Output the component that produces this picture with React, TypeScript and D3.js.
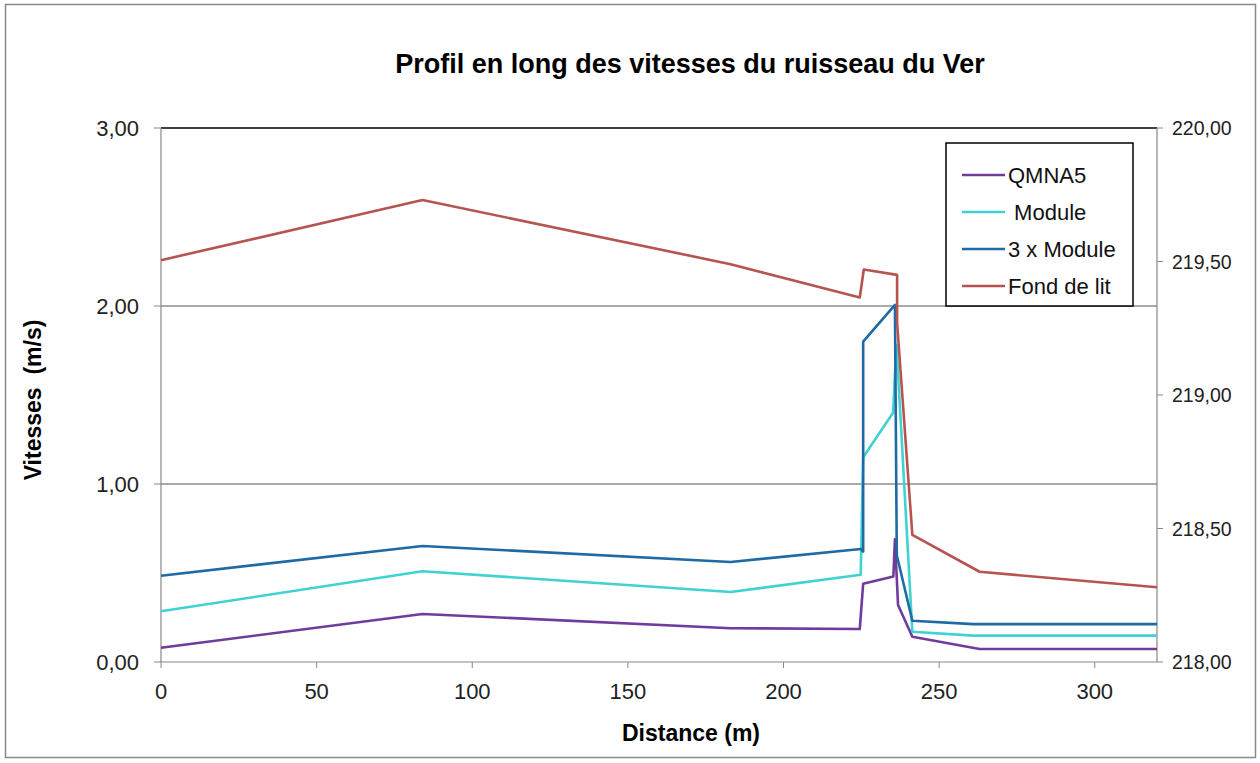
import React from "react";
import * as d3 from "d3";

const W = 1260;
const H = 763;

const title = "Profil en long des vitesses du ruisseau du Ver";
const xTicks = [0, 50, 100, 150, 200, 250, 300];
const yTicks = [0, 1, 2, 3];
const y2Ticks = [218, 218.5, 219, 219.5, 220];

const qmnaX = [0, 84, 183, 224.5, 225.6, 235.3, 235.8, 236.8, 241.4, 263, 320];
const qmnaV = [0.08, 0.27, 0.19, 0.185, 0.44, 0.48, 0.69, 0.32, 0.142, 0.073, 0.073];

const moduleX = [0, 84, 183, 224.8, 225.6, 235.2, 236.3, 241.4, 261, 320];
const moduleV = [0.285, 0.51, 0.393, 0.49, 1.15, 1.4, 1.78, 0.17, 0.148, 0.148];

const module3X = [0, 84, 183, 224.8, 225.6, 225.6, 235.8, 236.4, 241.4, 261, 320];
const module3V = [0.485, 0.652, 0.562, 0.635, 0.62, 1.8, 2.006, 0.6, 0.232, 0.213, 0.213];

const fondX = [0, 84, 183, 224.5, 225.8, 236.5, 236.5, 241.4, 263, 320];
const fondZ = [219.505, 219.73, 219.49, 219.365, 219.47, 219.45, 219.27, 218.476, 218.338, 218.28];

const legendNames = ["QMNA5", " Module", "3 x Module", "Fond de lit"];
const colors = ["#6f3c9e", "#40d2d2", "#1f6aa5", "#b65450"];

const FONT = "'Liberation Sans', Arial, sans-serif";

export default function App() {
  const left = 161, right = 1157, top = 128, bottom = 662;
  const x = d3.scaleLinear().domain([0, 320]).range([left, right]);
  const y = d3.scaleLinear().domain([0, 3]).range([bottom, top]);
  const y2 = d3.scaleLinear().domain([218, 220]).range([bottom, top]);

  const fmt = (v: number) => v.toFixed(2).replace(".", ",");

  const lineV = d3.line<[number, number]>().x((d) => x(d[0])).y((d) => y(d[1]));
  const lineZ = d3.line<[number, number]>().x((d) => x(d[0])).y((d) => y2(d[1]));

  const zip = (a: number[], b: number[]) => a.map((v, i) => [v, b[i]] as [number, number]);

  const paths = [
    lineV(zip(qmnaX, qmnaV)),
    lineV(zip(moduleX, moduleV)),
    lineV(zip(module3X, module3V)),
    lineZ(zip(fondX, fondZ)),
  ];

  const legX = 946, legY = 143, legW = 187, legH = 163;
  const legRows = [175, 212, 249, 286];

  return (
    <svg
      width={W}
      height={H}
      style={{ position: "absolute", left: 0, top: 0, background: "#fff" }}
      fontFamily={FONT}
    >
      <rect x={0} y={0} width={W} height={H} fill="#fff" />
      <rect x={5.5} y={4.5} width={1250} height={753} fill="none" stroke="#8a8a8a" strokeWidth={1.5} />

      <text x={690} y={73} textAnchor="middle" fontSize={27} fontWeight="bold" fill="#000">
        {title}
      </text>

      {yTicks.filter((t) => t > 0).map((t) => (
        <line key={t} x1={left} x2={right} y1={y(t)} y2={y(t)} stroke={t === 3 ? "#000" : "#555"} strokeWidth={t === 3 ? 1.5 : 1} />
      ))}

      <line x1={left} x2={left} y1={top} y2={bottom} stroke="#888" strokeWidth={1.2} />
      {yTicks.map((t) => (
        <g key={t}>
          <line x1={left - 7} x2={left} y1={y(t)} y2={y(t)} stroke="#888" />
          <text x={139} y={y(t)} dy="0.36em" textAnchor="end" fontSize={22} fill="#222">
            {fmt(t)}
          </text>
        </g>
      ))}

      <line x1={left} x2={right} y1={bottom} y2={bottom} stroke="#888" strokeWidth={1.2} />
      {xTicks.map((t) => (
        <g key={t}>
          <line x1={x(t)} x2={x(t)} y1={bottom} y2={bottom + 6} stroke="#888" />
          <text x={x(t)} y={699} textAnchor="middle" fontSize={22} fill="#222">
            {t}
          </text>
        </g>
      ))}

      <line x1={right} x2={right} y1={top} y2={bottom} stroke="#888" strokeWidth={1.2} />
      {y2Ticks.map((t) => (
        <g key={t}>
          <line x1={right} x2={right + 6} y1={y2(t)} y2={y2(t)} stroke="#888" />
          <text x={1172} y={y2(t)} dy="0.36em" textAnchor="start" fontSize={19.5} fill="#222">
            {fmt(t)}
          </text>
        </g>
      ))}

      {paths.map((p, i) => (
        <path key={i} d={p || ""} fill="none" stroke={colors[i]} strokeWidth={2.6} strokeLinejoin="round" />
      ))}

      <text x={691} y={741} textAnchor="middle" fontSize={23} fontWeight="bold" fill="#000">
        Distance (m)
      </text>
      <text
        transform={`translate(33, 400) rotate(-90)`}
        textAnchor="middle"
        dy="0.36em"
        fontSize={23}
        fontWeight="bold"
        fill="#000"
        style={{ whiteSpace: "pre" }}
      >
        {"Vitesses  (m/s)"}
      </text>

      <rect x={legX} y={legY} width={legW} height={legH} fill="#fff" stroke="#000" strokeWidth={1.5} />
      {legendNames.map((n, i) => (
        <g key={n}>
          <line x1={962} x2={1005} y1={legRows[i]} y2={legRows[i]} stroke={colors[i]} strokeWidth={2.6} />
          <text x={1008} y={legRows[i]} dy="0.36em" fontSize={22} fill="#111" style={{ whiteSpace: "pre" }}>
            {n}
          </text>
        </g>
      ))}
    </svg>
  );
}
